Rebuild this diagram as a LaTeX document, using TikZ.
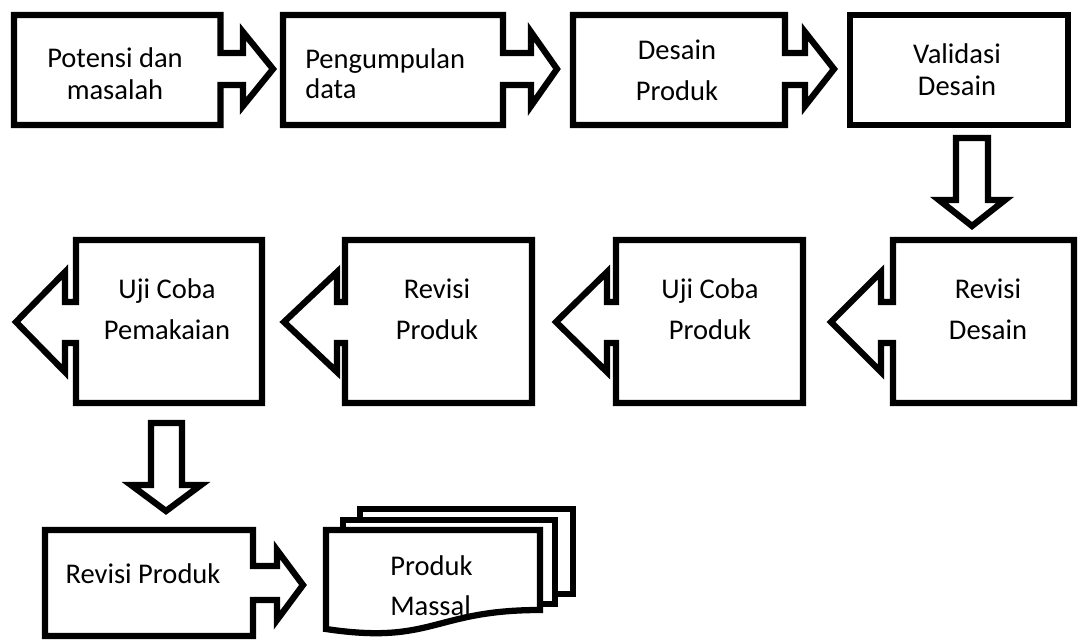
\documentclass[tikz,border=0pt]{standalone}
\usepackage{fontspec}
\setmainfont{Carlito}

% Row 1 box with a right-pointing arrow: left, right, head base, tip x
\newcommand\boxarrowright[4]{%
  \draw[shape outline] (#1,15) -- (#2,15) -- (#2,53) -- (#3,53) -- (#3,32)
    -- (#4,69) -- (#3,106) -- (#3,85) -- (#2,85) -- (#2,125) -- (#1,125) -- cycle;}
% Row 2 box with a left-pointing arrow: tip x, head base, left, right
\newcommand\boxarrowleft[4]{%
  \draw[shape outline] (#3,240) -- (#4,240) -- (#4,403) -- (#3,403) -- (#3,343)
    -- (#2,343) -- (#2,372) -- (#1,322) -- (#2,272) -- (#2,302) -- (#3,302) -- cycle;}

\begin{document}
\begin{tikzpicture}[x=0.75pt,y=-0.75pt,line join=miter,
  shape outline/.style={draw=black,line width=4.7pt},
  label text/.style={anchor=base,inner sep=0pt,
    font=\fontsize{21.4pt}{#1}\selectfont},
  label text/.default=24pt]
\useasboundingbox (0,0) rectangle (1078,639);

% ---- texts ----
\node[label text=24pt] (potensi) at (115,67)
  {\begin{tabular}[t]{@{}c@{}}Potensi dan\\masalah\end{tabular}};
\node[label text=22.5pt,anchor=base west] (pengumpulan) at (305,68)
  {\begin{tabular}[t]{@{}l@{}}Pengumpulan\\data\end{tabular}};
\node[label text=30.75pt] (desain) at (677,59)
  {\begin{tabular}[t]{@{}c@{}}Desain\\Produk\end{tabular}};
\node[label text=24pt] (validasi) at (957,63)
  {\begin{tabular}[t]{@{}c@{}}Validasi\\Desain\end{tabular}};

\node[label text=30.75pt] (revdesain) at (988,298)
  {\begin{tabular}[t]{@{}c@{}}Revisi\\Desain\end{tabular}};
\node[label text=30.75pt] (ujiproduk) at (710,298)
  {\begin{tabular}[t]{@{}c@{}}Uji Coba\\Produk\end{tabular}};
\node[label text=30.75pt] (revproduk) at (437,298)
  {\begin{tabular}[t]{@{}c@{}}Revisi\\Produk\end{tabular}};
\node[label text=30.75pt] (ujipakai) at (167,298)
  {\begin{tabular}[t]{@{}c@{}}Uji Coba\\Pemakaian\end{tabular}};

\node[label text] (revproduk2) at (143,583) {Revisi Produk};
\node[label text=30pt,anchor=base west] (massal) at (390,575)
  {\begin{tabular}[t]{@{}l@{}}Produk\\Massal\end{tabular}};

% ---- row 1 ----
\boxarrowright{14}{220.5}{243}{273}
\boxarrowright{283}{503}{531}{557}
\boxarrowright{573}{785}{805}{834}
\draw[shape outline] (850,15) rectangle (1068,125);

% down arrow to row 2
\draw[shape outline] (956,138) -- (988,138) -- (988,200) -- (1005,200)
  -- (972,226) -- (939,200) -- (956,200) -- cycle;

% ---- row 2 ----
\boxarrowleft{831}{881}{893}{1074}
\boxarrowleft{556}{607}{616}{803}
\boxarrowleft{284}{337}{345}{532}
\boxarrowleft{16}{65}{76}{262}

% down arrow to row 3
\draw[shape outline] (151,423) -- (182,423) -- (182,485) -- (201,485)
  -- (166,511) -- (131,485) -- (151,485) -- cycle;

% ---- row 3 ----
\draw[shape outline] (45,530) -- (253,530) -- (253,566) -- (277,566) -- (277,550)
  -- (303,585) -- (277,620) -- (277,600) -- (253,600) -- (253,636) -- (45,636) -- cycle;

% stacked documents
\draw[shape outline] (360,520) -- (360,509) -- (573,509) -- (573,594) -- (555,594);
\draw[shape outline] (343,530) -- (343,520) -- (555,520) -- (555,604) -- (540,604);
\draw[shape outline] (326,530) -- (540,530) -- (540,610)
  .. controls (433,610) and (433,645) .. (326,629) -- cycle;
\end{tikzpicture}
\end{document}
